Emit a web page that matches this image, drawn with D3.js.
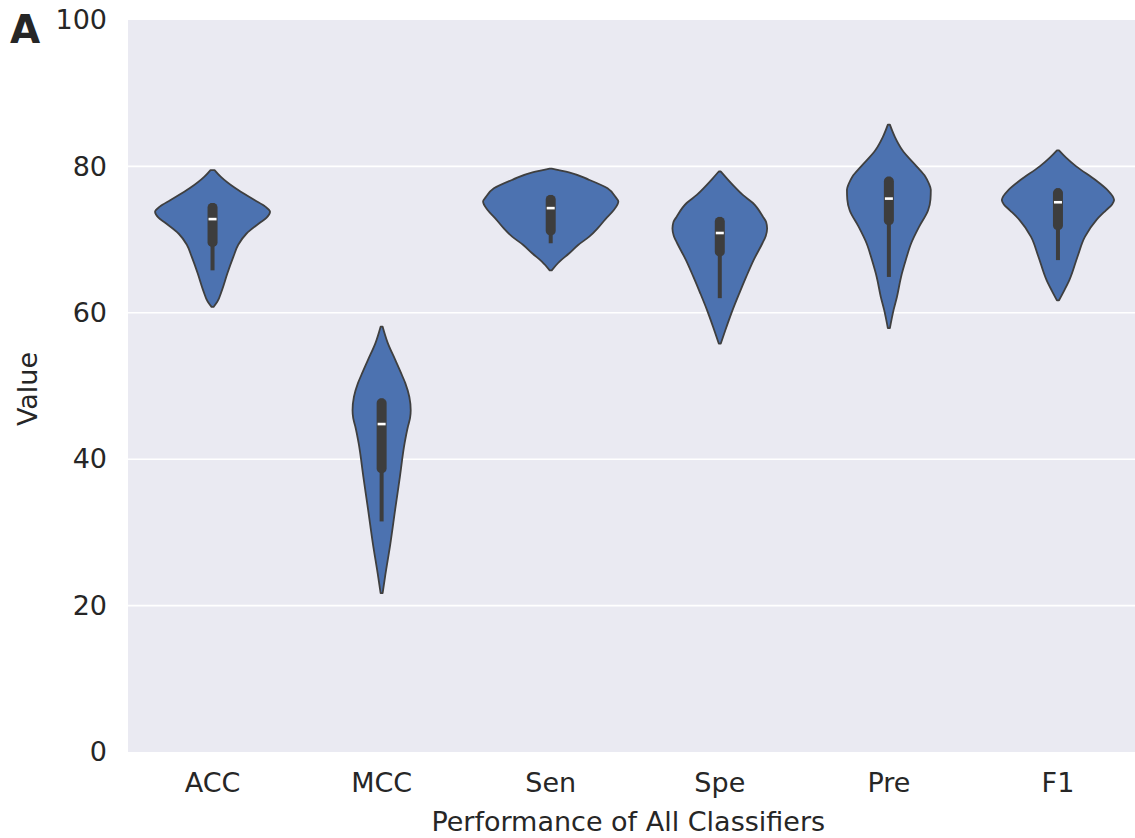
<!DOCTYPE html>
<html>
<head>
<meta charset="utf-8">
<script src="https://cdn.jsdelivr.net/npm/d3@7"></script>
<style>
  html, body { margin: 0; padding: 0; background: #ffffff; }
  svg { display: block; }
  text { font-family: "DejaVu Sans", sans-serif; fill: #262626; }
</style>
</head>
<body>
<svg id="chart" width="1135" height="838"></svg>
<script>
// Metric categories on the x axis
const categories = ["ACC", "MCC", "Sen", "Spe", "Pre", "F1"];

// Y axis ticks
const yTicks = [0, 20, 40, 60, 80, 100];

// Kernel density profiles: value grid and relative density (1 = widest violin)
const accValues  = [79.5, 78.6, 77.0, 75.4, 74.5, 73.8, 73.0, 72.3, 70.8, 69.3, 67.7, 65.4, 63.1, 61.5, 60.8];
const accDensity = [0.03, 0.12, 0.34, 0.62, 0.78, 0.85, 0.80, 0.70, 0.50, 0.38, 0.31, 0.22, 0.14, 0.07, 0.015];

const mccValues  = [58.1, 55.9, 53.6, 51.5, 50.4, 48.5, 46.7, 45.6, 44.5, 42.2, 37.6, 33.1, 28.5, 23.9, 21.7];
const mccDensity = [0.015, 0.09, 0.20, 0.30, 0.35, 0.41, 0.43, 0.42, 0.39, 0.34, 0.27, 0.20, 0.13, 0.05, 0.015];

const senValues  = [79.7, 79.2, 78.2, 77.0, 75.8, 75.2, 74.0, 72.8, 71.6, 70.4, 69.3, 68.1, 67.0, 65.8];
const senDensity = [0.015, 0.27, 0.56, 0.84, 0.96, 1.0, 0.93, 0.81, 0.70, 0.57, 0.41, 0.27, 0.13, 0.015];

const speValues  = [79.3, 78.2, 77.2, 76.1, 75.0, 73.1, 72.4, 71.5, 70.5, 69.5, 67.2, 64.9, 62.7, 60.4, 58.1, 55.8];
const speDensity = [0.015, 0.12, 0.22, 0.34, 0.49, 0.64, 0.685, 0.70, 0.68, 0.63, 0.50, 0.39, 0.29, 0.19, 0.10, 0.015];

const preValues  = [85.7, 84.0, 82.2, 80.0, 78.6, 77.7, 76.8, 75.5, 74.0, 71.8, 69.5, 67.2, 64.9, 62.2, 60.4, 57.9];
const preDensity = [0.015, 0.09, 0.20, 0.41, 0.54, 0.59, 0.62, 0.615, 0.58, 0.45, 0.33, 0.25, 0.18, 0.12, 0.07, 0.015];

const f1Values   = [82.2, 81.2, 80.0, 78.1, 76.7, 75.9, 75.4, 74.8, 74.0, 72.7, 70.4, 67.7, 64.5, 63.0, 61.7];
const f1Density  = [0.015, 0.12, 0.27, 0.56, 0.74, 0.81, 0.83, 0.80, 0.71, 0.57, 0.40, 0.29, 0.17, 0.09, 0.015];

// Box summaries per category: lower whisker, Q1, median, Q3, upper whisker
const whiskerLow  = [65.8, 31.5, 69.5, 62.0, 64.9, 67.2];
const quartile1   = [69.0, 38.1, 70.6, 67.7, 72.0, 71.3];
const medians     = [72.8, 44.8, 74.3, 70.9, 75.6, 75.1];
const quartile3   = [75.0, 48.3, 76.1, 73.1, 78.6, 77.0];
const whiskerHigh = [75.0, 48.3, 76.1, 73.1, 78.6, 77.0];

const profileValues  = [accValues, mccValues, senValues, speValues, preValues, f1Values];
const profileDensity = [accDensity, mccDensity, senDensity, speDensity, preDensity, f1Density];

const svg = d3.select("#chart");
const margin = { left: 128, top: 20 };
const plotW = 1014.5, plotH = 732;

const x = d3.scaleBand().domain(categories).range([margin.left, margin.left + plotW]).padding(0);
const y = d3.scaleLinear().domain([0, 100]).range([margin.top + plotH, margin.top]);
const w = d3.scaleLinear().domain([0, 1]).range([0, x.bandwidth() * 0.4]);

// Plot background
svg.append("rect")
  .attr("x", margin.left).attr("y", margin.top)
  .attr("width", plotW).attr("height", plotH)
  .attr("fill", "#eaeaf2");

// Horizontal grid lines
svg.append("g").selectAll("line")
  .data(yTicks.filter(t => t > 0 && t < 100))
  .join("line")
  .attr("x1", margin.left).attr("x2", margin.left + plotW)
  .attr("y1", d => y(d)).attr("y2", d => y(d))
  .attr("stroke", "#ffffff").attr("stroke-width", 1.6);

// Y axis
const yAxis = svg.append("g")
  .attr("transform", `translate(${margin.left},0)`)
  .call(d3.axisLeft(y).tickValues(yTicks).tickSize(0).tickPadding(21));
yAxis.select(".domain").remove();
yAxis.selectAll("text")
  .style("font-size", "27px")
  .style("font-family", "'DejaVu Sans', sans-serif")
  .attr("fill", "#262626");

// X axis
const xAxis = svg.append("g")
  .attr("transform", `translate(0,${margin.top + plotH})`)
  .call(d3.axisBottom(x).tickSize(0).tickPadding(21));
xAxis.select(".domain").remove();
xAxis.selectAll("text")
  .style("font-size", "27px")
  .style("font-family", "'DejaVu Sans', sans-serif")
  .attr("fill", "#262626");

// Violins
const violins = svg.append("g");
categories.forEach((cat, i) => {
  const cx = x(cat) + x.bandwidth() / 2;
  const pts = profileValues[i].map((v, j) => ({ v, d: profileDensity[i][j] }));
  const area = d3.area()
    .y(p => y(p.v))
    .x0(p => cx - w(p.d))
    .x1(p => cx + w(p.d))
    .curve(d3.curveMonotoneY);
  violins.append("path")
    .attr("d", area(pts))
    .attr("fill", "#4c72b0")
    .attr("stroke", "#3f3f3f")
    .attr("stroke-width", 1.8)
    .attr("stroke-linejoin", "round");

  // Whisker
  violins.append("line")
    .attr("x1", cx).attr("x2", cx)
    .attr("y1", y(whiskerLow[i])).attr("y2", y(whiskerHigh[i]))
    .attr("stroke", "#3d3d3d").attr("stroke-width", 4);

  // Interquartile box
  violins.append("rect")
    .attr("x", cx - 5).attr("width", 10)
    .attr("y", y(quartile3[i]))
    .attr("height", y(quartile1[i]) - y(quartile3[i]))
    .attr("rx", 4.5)
    .attr("fill", "#3d3d3d");

  // Median mark
  violins.append("line")
    .attr("x1", cx - 4).attr("x2", cx + 4)
    .attr("y1", y(medians[i])).attr("y2", y(medians[i]))
    .attr("stroke", "#ffffff").attr("stroke-width", 2.6);
});

// Axis titles
svg.append("text")
  .attr("x", margin.left + plotW / 2 - 7).attr("y", 831)
  .attr("text-anchor", "middle")
  .style("font-size", "27px")
  .text("Performance of All Classifiers");

svg.append("text")
  .attr("transform", `translate(37,${margin.top + plotH / 2 + 3}) rotate(-90)`)
  .attr("text-anchor", "middle")
  .style("font-size", "27px")
  .text("Value");

// Panel letter
svg.append("text")
  .attr("x", 10).attr("y", 43)
  .style("font-size", "39px")
  .style("font-weight", "bold")
  .attr("fill", "#1a1a1a")
  .text("A");
</script>
</body>
</html>
